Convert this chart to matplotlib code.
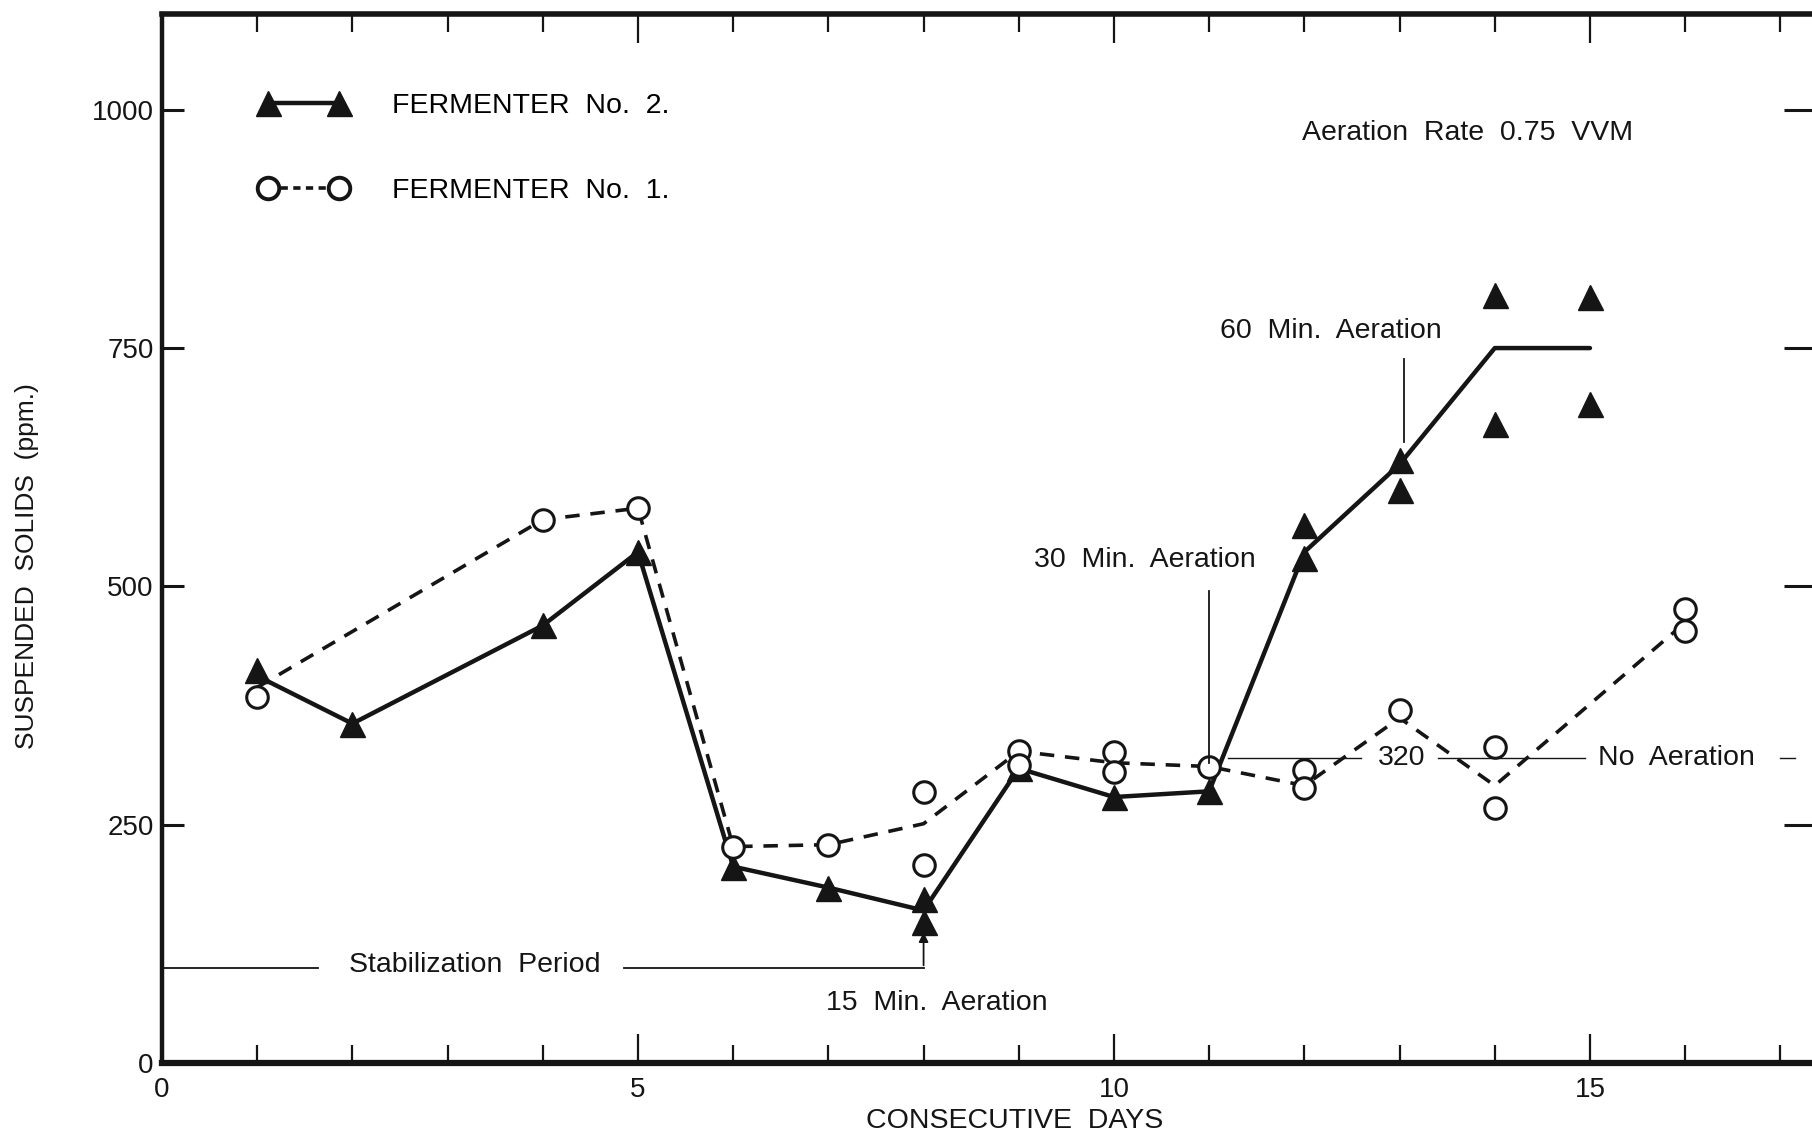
import matplotlib.pyplot as plt
from matplotlib.lines import Line2D
from matplotlib.ticker import MultipleLocator

plt.rcParams['font.family'] = ['Liberation Sans', 'DejaVu Sans']

INK = '#151515'
FS = 20.5

# Fermenter No. 2: measured points (filled triangles)
f2_days = [1, 2, 4, 5, 6, 7, 8, 8, 9, 10, 11, 12, 12, 13, 13, 14, 14, 15, 15]
f2_vals = [412, 356, 459, 536, 206, 184, 172, 148, 309, 279, 285,
           564, 530, 633, 601, 806, 670, 804, 691]
# Fermenter No. 2: curve drawn through the points
f2_line_days = [1, 2, 4, 5, 6, 7, 8, 9, 10, 11, 12, 13, 14, 15]
f2_line_vals = [406, 356, 459, 536, 206, 184, 160, 309, 279, 285, 536, 628, 750, 750]

# Fermenter No. 1: measured points (open circles)
f1_days = [1, 4, 5, 6, 7, 8, 8, 9, 9, 10, 10, 11, 12, 12, 13, 14, 14, 16, 16]
f1_vals = [384, 570, 582, 227, 229, 284, 208, 327, 313, 326, 305,
           311, 307, 288, 370, 331, 267, 476, 453]
# Fermenter No. 1: dashed curve
f1_line_days = [1, 4, 5, 6, 7, 8, 9, 10, 11, 12, 13, 14, 16]
f1_line_vals = [394, 570, 582, 227, 229, 251, 327, 315, 311, 291, 362, 291, 462]

x_ticks = [0, 5, 10, 15]
y_ticks = [0, 250, 500, 750, 1000]
no_aeration_level = 320
stabilization_level = 100

fig = plt.figure(figsize=(18.12, 11.37), dpi=100)
ax = fig.add_axes([0.0894, 0.0651, 0.9194, 0.9222])

# curves
ax.plot(f2_line_days, f2_line_vals, '-', color=INK, lw=3.2, solid_capstyle='round')
ax.plot(f1_line_days, f1_line_vals, '--', color=INK, lw=2.6, dashes=(4, 3))
# points
ax.plot(f2_days, f2_vals, '^', ls='none', color=INK, ms=18)
ax.plot(f1_days, f1_vals, 'o', ls='none', mfc='white', mec=INK, mew=2.2, ms=15.5)

# legend
h2 = Line2D([], [], color=INK, lw=3.2, marker='^', ms=18)
h1 = Line2D([], [], color=INK, lw=2.6, ls='--', dashes=(2, 1.5), marker='o',
            mfc='white', mec=INK, mew=2.8, ms=15.5)
ax.legend([h2, h1], ['FERMENTER  No.  2.', 'FERMENTER  No.  1.'],
          numpoints=2, loc='upper left', bbox_to_anchor=(0.0586, 0.925),
          frameon=False, fontsize=FS, handlelength=3.1, handletextpad=1.56,
          labelspacing=2.06, borderpad=0, borderaxespad=0)

# annotations
thin = dict(color=INK, lw=1.3)
ax.plot([0, 1.64], [stabilization_level] * 2, **thin)
ax.plot([4.85, 8.0], [stabilization_level] * 2, **thin)
ax.annotate('', xy=(8, 140), xytext=(8, stabilization_level - 0.5),
            arrowprops=dict(arrowstyle='-|>', color=INK, lw=1.3, mutation_scale=14))
ax.text(3.29, 103, 'Stabilization  Period', ha='center', va='center', fontsize=FS, color=INK)
ax.text(8.14, 63, '15  Min.  Aeration', ha='center', va='center', fontsize=FS, color=INK)

ax.plot([11.0, 11.0], [495, 315], **thin)
ax.text(10.32, 528, '30  Min.  Aeration', ha='center', va='center', fontsize=FS, color=INK)

ax.plot([13.05, 13.05], [739, 651], **thin)
ax.text(12.28, 768, '60  Min.  Aeration', ha='center', va='center', fontsize=FS, color=INK)

ax.plot([11.2, 12.6], [no_aeration_level] * 2, color=INK, lw=1.0)
ax.plot([13.4, 14.95], [no_aeration_level] * 2, color=INK, lw=1.0)
ax.plot([17.0, 17.15], [no_aeration_level] * 2, color=INK, lw=1.0)
ax.text(13.02, no_aeration_level, str(no_aeration_level), ha='center', va='center',
        fontsize=FS, color=INK)
ax.text(15.91, no_aeration_level, 'No  Aeration', ha='center', va='center',
        fontsize=FS, color=INK)

ax.text(13.71, 976, 'Aeration  Rate  0.75  VVM', ha='center', va='center',
        fontsize=FS, color=INK)

# axes
ax.set_xlim(0, 17.5)
ax.set_ylim(0, 1100)
ax.set_xticks(x_ticks)
ax.xaxis.set_minor_locator(MultipleLocator(1))
ax.set_yticks(y_ticks)
ax.tick_params(axis='x', which='major', direction='in', top=True, length=21, width=1.6,
               labelsize=20, pad=10, color=INK, labelcolor=INK)
ax.tick_params(axis='x', which='minor', direction='in', top=True, length=13, width=1.6,
               color=INK)
ax.tick_params(axis='y', direction='in', length=16, width=2.2, labelsize=20, pad=6,
               color=INK, labelcolor=INK)
for side, w in [('left', 3.2), ('bottom', 4.5), ('top', 4.0)]:
    ax.spines[side].set_linewidth(w)
    ax.spines[side].set_color(INK)
ax.spines['right'].set_visible(False)

ax_r = ax.twinx()
ax_r.set_ylim(0, 1100)
ax_r.set_yticks(y_ticks[1:])
ax_r.tick_params(axis='y', direction='in', length=32, width=2.2, labelright=False, color=INK)
for s in ax_r.spines.values():
    s.set_visible(False)

ax.set_xlabel('CONSECUTIVE  DAYS', fontsize=FS, color=INK)
ax.xaxis.set_label_coords(0.512, -0.043)
ax.set_ylabel('SUSPENDED  SOLIDS  (ppm.)', fontsize=19, color=INK)
ax.yaxis.set_label_coords(-0.074, 0.474)

fig.savefig('out.png', dpi=100)
